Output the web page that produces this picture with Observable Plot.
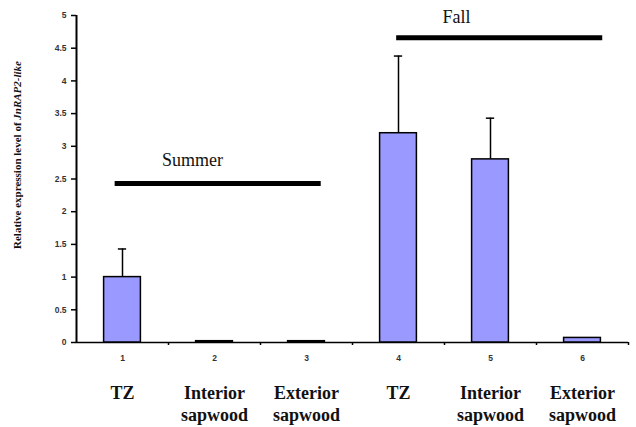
<!DOCTYPE html>
<html>
<head>
<meta charset="utf-8">
<script src="https://cdn.jsdelivr.net/npm/d3@7"></script>
<script src="https://cdn.jsdelivr.net/npm/@observablehq/plot@0.6"></script>
<style>
  html, body { margin: 0; padding: 0; background: #fff; }
  #chart svg { display: block; }
</style>
</head>
<body>
<div id="chart"></div>
<script>
// ---- data ----
const positions = [1, 2, 3, 4, 5, 6];
const tissues = ["TZ", "Interior\nsapwood", "Exterior\nsapwood", "TZ", "Interior\nsapwood", "Exterior\nsapwood"];
const expression = [1.0, 0.02, 0.02, 3.2, 2.8, 0.07];
const errorUpper = [1.43, null, null, 4.38, 3.43, null];
const yTicks = [0, 0.5, 1, 1.5, 2, 2.5, 3, 3.5, 4, 4.5, 5];
const seasons = ["Summer", "Fall"];
const seasonStart = [0.92, 3.98];
const seasonEnd = [3.16, 6.22];
const seasonLevel = [2.43, 4.66];
const seasonLabelX = [1.76, 4.63];
const seasonLabelY = [2.78, 4.98];

const bars = positions.map((p, i) => ({pos: p, value: expression[i], upper: errorUpper[i], tissue: tissues[i]}));
const errs = bars.filter(d => d.upper != null);
const periods = seasons.map((s, i) => ({name: s, x1: seasonStart[i], x2: seasonEnd[i], y: seasonLevel[i], lx: seasonLabelX[i], ly: seasonLabelY[i]}));

const serif = "Liberation Serif";
const sans = "Liberation Sans";

const chart = Plot.plot({
  width: 636,
  height: 427,
  marginLeft: 76,
  marginRight: 8,
  marginTop: 15,
  marginBottom: 85,
  x: {domain: [0.5, 6.5]},
  y: {domain: [0, 5]},
  style: {background: "#fff", overflow: "visible"},
  marks: [
    // y axis
    Plot.axisY({ticks: yTicks, tickFormat: d => String(d), tickSize: 5, tickPadding: 5,
      fontSize: 8.5, fontWeight: "bold", fontFamily: sans, fill: "#333", label: null, strokeWidth: 1.5}),
    Plot.ruleX([0.5], {stroke: "#000", strokeWidth: 2}),
    // x axis: tick marks between categories
    Plot.axisX({ticks: [1.5, 2.5, 3.5, 4.5, 5.5, 6.5], tickFormat: () => "", tickSize: 3, label: null, strokeWidth: 1.5}),
    // x axis: category numbers
    Plot.axisX({ticks: positions, tickFormat: d => String(d), tickSize: 0, tickPadding: 12,
      fontSize: 8.5, fontWeight: "bold", fontFamily: sans, fill: "#333", label: null}),
    Plot.ruleY([0], {stroke: "#000", strokeWidth: 1.5}),
    // bars
    Plot.rectY(bars, {x1: d => d.pos - 0.2, x2: d => d.pos + 0.2, y: "value", fill: "#9999ff", stroke: "#000", strokeWidth: 1.5}),
    // error bars
    Plot.ruleX(errs, {x: "pos", y1: "value", y2: "upper", stroke: "#000", strokeWidth: 1.5}),
    Plot.ruleY(errs, {y: "upper", x1: d => d.pos - 0.045, x2: d => d.pos + 0.045, stroke: "#000", strokeWidth: 1.5}),
    // season bars & labels
    Plot.ruleY(periods, {y: "y", x1: "x1", x2: "x2", stroke: "#000", strokeWidth: 5}),
    Plot.text(periods, {x: "lx", y: "ly", text: "name", fontSize: 18, fontFamily: serif, fill: "#111"}),
    // tissue labels below
    Plot.text(bars, {x: "pos", text: "tissue", frameAnchor: "bottom", dy: 41, lineAnchor: "top", lineHeight: 1.22,
      fontSize: 18, fontWeight: "bold", fontFamily: serif, fill: "#111"})
  ]
});

document.getElementById("chart").appendChild(chart);

// y-axis title with italic gene name
const svg = d3.select(chart);
const t = svg.append("text")
  .attr("transform", "translate(21,155) rotate(-90)")
  .attr("text-anchor", "middle")
  .attr("font-family", serif)
  .attr("font-size", 11)
  .attr("font-weight", "bold")
  .attr("fill", "#111");
t.append("tspan").text("Relative expression level of ");
t.append("tspan").attr("font-style", "italic").text("JnRAP2-like");
</script>
</body>
</html>
